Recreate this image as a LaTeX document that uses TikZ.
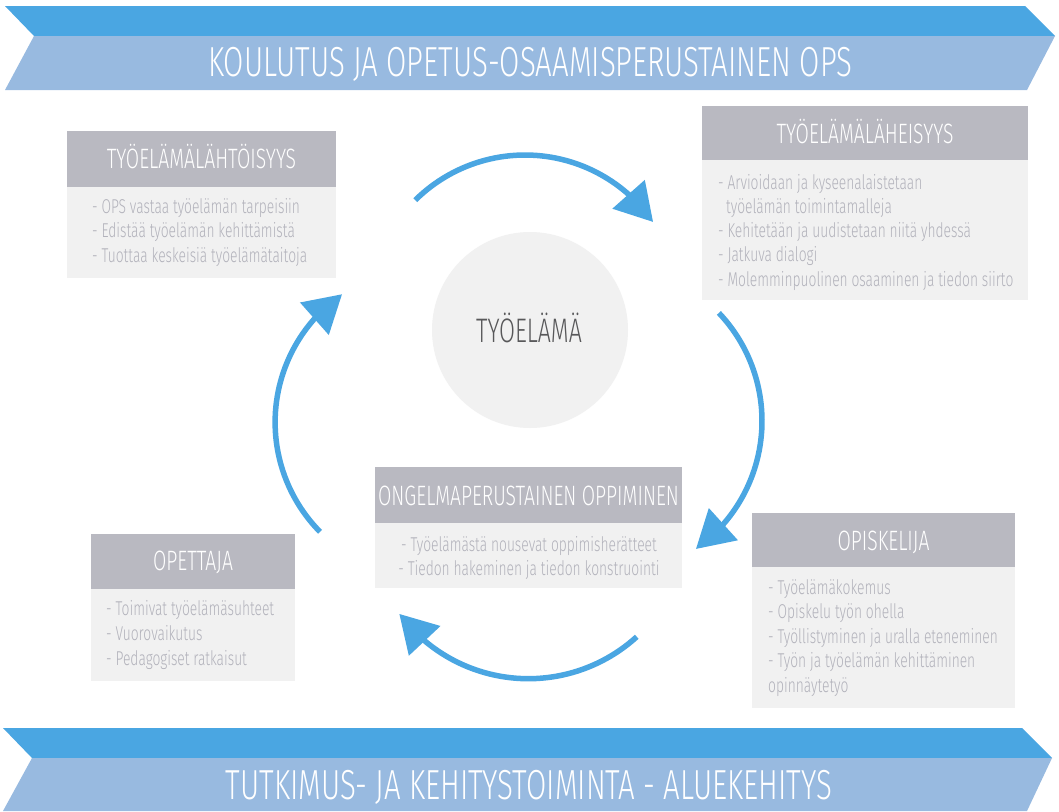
\documentclass[tikz,border=0pt]{standalone}
\usepackage{fontspec}
\setmainfont{Fira Sans Light}[FakeStretch=0.68]
\newfontfamily\bannerfont{Fira Sans Light}[FakeStretch=0.70]
\newfontfamily\hdrfont{Fira Sans Light}[FakeStretch=0.69]
\newfontfamily\bodyfont{Fira Sans Light}[FakeStretch=0.69]
\usetikzlibrary{arrows.meta,bending}
\definecolor{bandA}{HTML}{4AA6E2}
\definecolor{bandB}{HTML}{98BAE0}
\definecolor{hdr}{HTML}{B9B9C1}
\definecolor{bodybg}{HTML}{F1F1F1}
\definecolor{bodytx}{HTML}{B2B2BB}
\definecolor{ctx}{HTML}{58585A}
\begin{document}
\begin{tikzpicture}[x=1pt,y=-1pt,
  bannertext/.style={text=white, font=\bannerfont\fontsize{42}{42}\selectfont, inner sep=0pt, anchor=base},
  hdrtext/.style={text=white, font=\hdrfont\fontsize{28}{28}\selectfont, inner sep=0pt, anchor=base},
  bodytext/.style={text=bodytx, font=\bodyfont\fontsize{20}{24}\selectfont, inner sep=0pt, anchor=base west},
  bodytextc/.style={bodytext, anchor=base},
  cyclearrow/.style={draw=bandA, line width=5.5pt, -{Triangle[length=37pt,width=42pt,flex]}}]
\useasboundingbox (0,0) rectangle (1059,811);
\fill[white] (0,0) rectangle (1059,811);
% top banner
\fill[bandA] (5,6) -- (1025,6) -- (1055,36) -- (34,36) -- cycle;
\fill[bandB] (34,36) -- (1055,36) -- (1027,90) -- (5,90) -- cycle;
\node[bannertext] (topban) at (530,76) {KOULUTUS JA OPETUS-OSAAMISPERUSTAINEN OPS};
% bottom banner
\fill[bandA] (3,728) -- (1022,728) -- (1052,758) -- (32,758) -- cycle;
\fill[bandB] (32,758) -- (1052,758) -- (1027,811) -- (3,811) -- cycle;
\node[bannertext] (botban) at (529,799) {TUTKIMUS- JA KEHITYSTOIMINTA - ALUEKEHITYS};
% centre circle
\node[circle, fill=bodybg, minimum size=196pt, inner sep=0pt] (core) at (530,330) {};
\node[text=ctx, font=\fontsize{34}{34}\selectfont, inner sep=0pt, anchor=base] (coretext) at (529,342) {TYÖELÄMÄ};
% box 1
\fill[hdr] (67,131) rectangle (336,187);
\fill[bodybg] (67,187) rectangle (336,278);
\node[hdrtext] (h1) at (201.5,168) {TYÖELÄMÄLÄHTÖISYYS};
\node[bodytext] (b1a) at (92,213) {- OPS vastaa työelämän tarpeisiin};
\node[bodytext] (b1b) at (92,237.5) {- Edistää työelämän kehittämistä};
\node[bodytext] (b1c) at (92,262) {- Tuottaa keskeisiä työelämätaitoja};
% box 2
\fill[hdr] (702,106) rectangle (1028,160);
\fill[bodybg] (702,160) rectangle (1028,300);
\node[hdrtext] (h2) at (865,143) {TYÖELÄMÄLÄHEISYYS};
\node[bodytext] (b2a) at (718,189) {- Arvioidaan ja kyseenalaistetaan};
\node[bodytext] (b2b) at (726,213) {työelämän toimintamalleja};
\node[bodytext] (b2c) at (718,237) {- Kehitetään ja uudistetaan niitä yhdessä};
\node[bodytext] (b2d) at (718,261) {- Jatkuva dialogi};
\node[bodytext] (b2e) at (718,286) {- Molemminpuolinen osaaminen ja tiedon siirto};
% box 3
\fill[hdr] (375,467) rectangle (682,523);
\fill[bodybg] (375,523) rectangle (682,588);
\node[hdrtext] (h3) at (528.5,505) {ONGELMAPERUSTAINEN OPPIMINEN};
\node[bodytextc] (b3a) at (529,551) {- Työelämästä nousevat oppimisherätteet};
\node[bodytextc] (b3b) at (529,575) {- Tiedon hakeminen ja tiedon konstruointi};
% box 4
\fill[hdr] (752,513) rectangle (1015,567);
\fill[bodybg] (752,567) rectangle (1015,708);
\node[hdrtext] (h4) at (883.5,550) {OPISKELIJA};
\node[bodytext] (b4a) at (768,594) {- Työelämäkokemus};
\node[bodytext] (b4b) at (768,618) {- Opiskelu työn ohella};
\node[bodytext] (b4c) at (768,643) {- Työllistyminen ja uralla eteneminen};
\node[bodytext] (b4d) at (768,667) {- Työn ja työelämän kehittäminen};
\node[bodytext] (b4e) at (768,692) {opinnäytetyö};
% box 5
\fill[hdr] (91,534) rectangle (295,589);
\fill[bodybg] (91,589) rectangle (295,681);
\node[hdrtext] (h5) at (193,570) {OPETTAJA};
\node[bodytext] (b5a) at (106,615) {- Toimivat työelämäsuhteet};
\node[bodytext] (b5b) at (106,640) {- Vuorovaikutus};
\node[bodytext] (b5c) at (106,665) {- Pedagogiset ratkaisut};
% cycle arrows (each an arc of its own circle; angles in canvas orientation)
\coordinate (tC) at (525,311);
\coordinate (rC) at (605,421);
\coordinate (bC) at (528.4,517.7);
\coordinate (lC) at (431.1,422.3);
\draw[cyclearrow] ([shift={(134.7:156pt)}]tC) arc[start angle=134.7, end angle=34.8, radius=156pt];
\draw[cyclearrow] ([shift={(43.5:157pt)}]rC) arc[start angle=43.5, end angle=-54.6, radius=157pt];
\draw[cyclearrow] ([shift={(-47.7:161pt)}]bC) arc[start angle=-47.7, end angle=-143.3, radius=161pt];
\draw[cyclearrow] ([shift={(-135.4:156pt)}]lC) arc[start angle=-135.4, end angle=-235.2, radius=156pt];
\end{tikzpicture}
\end{document}
